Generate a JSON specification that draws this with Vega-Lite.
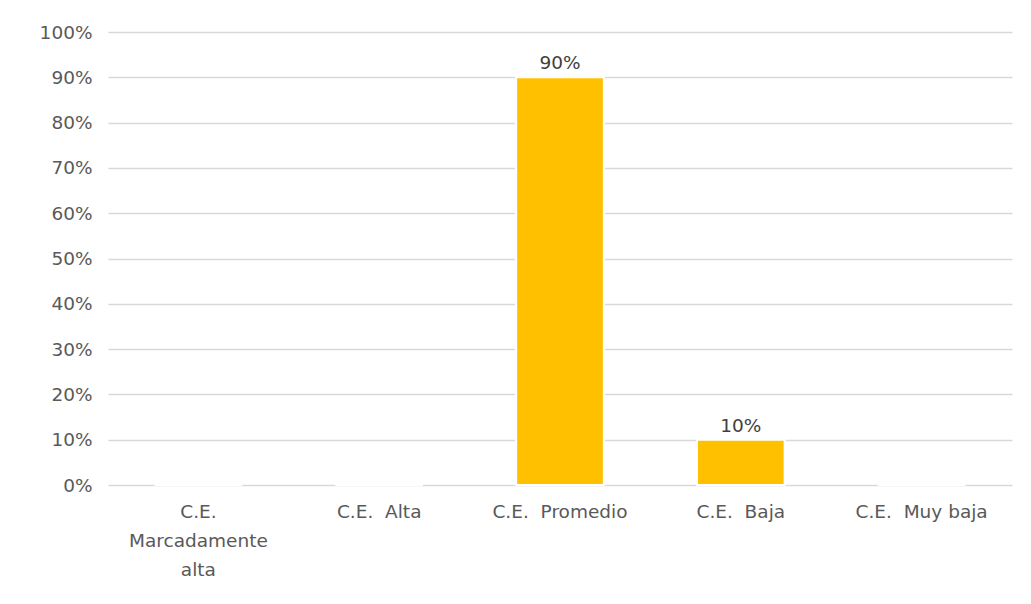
{
  "$schema": "https://vega.github.io/schema/vega-lite/v6.json",
  "width": 904,
  "height": 453,
  "autosize": {"type": "none"},
  "padding": {"left": 108, "top": 32, "right": 19, "bottom": 119},
  "background": "white",
  "config": {"view": {"stroke": null}, "font": "DejaVu Sans"},
  "data": {
    "values": [
      {"cat": "C.E. Marcadamente alta", "value": 0},
      {"cat": "C.E.\u00a0 Alta", "value": 0},
      {"cat": "C.E.\u00a0 Promedio", "value": 0.9},
      {"cat": "C.E.\u00a0 Baja", "value": 0.1},
      {"cat": "C.E.\u00a0 Muy baja", "value": 0}
    ]
  },
  "encoding": {
    "x": {
      "field": "cat",
      "type": "nominal",
      "sort": null,
      "scale": {"paddingInner": 0.515, "paddingOuter": 0.2575},
      "axis": {
        "title": null,
        "labelAngle": 0,
        "domain": false,
        "ticks": false,
        "labelPadding": 17,
        "labelFontSize": 18.5,
        "labelColor": "#595959",
        "labelLineHeight": 29,
        "labelLimit": 250,
        "labelExpr": "datum.label == 'C.E. Marcadamente alta' ? ['C.E.', 'Marcadamente', 'alta'] : datum.label"
      }
    },
    "y": {
      "field": "value",
      "type": "quantitative",
      "scale": {"domain": [0, 1]},
      "axis": {
        "title": null,
        "format": ".0%",
        "values": [0, 0.1, 0.2, 0.3, 0.4, 0.5, 0.6, 0.7, 0.8, 0.9, 1],
        "domain": false,
        "ticks": false,
        "labelPadding": 16,
        "labelFontSize": 18.5,
        "labelColor": "#595959",
        "gridColor": "#D9D9D9",
        "gridWidth": 1.5
      }
    }
  },
  "layer": [
    {
      "mark": {"type": "bar", "color": "#FFC000", "stroke": "white", "strokeWidth": 2}
    },
    {
      "transform": [{"filter": "datum.value > 0"}],
      "mark": {"type": "text", "baseline": "bottom", "dy": -4, "fontSize": 18.5, "color": "#404040"},
      "encoding": {"text": {"field": "value", "format": ".0%"}}
    }
  ]
}
